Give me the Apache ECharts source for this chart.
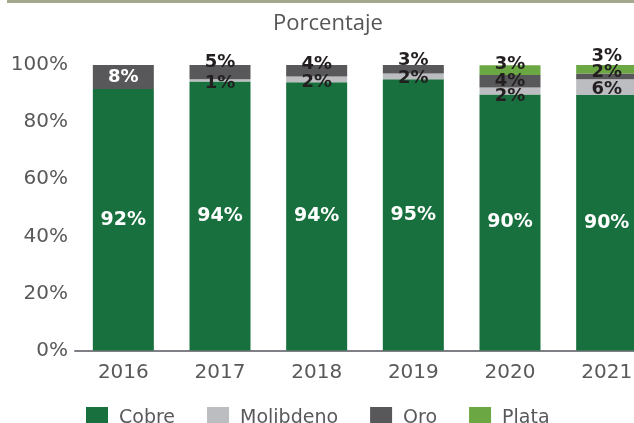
<!DOCTYPE html>
<html>

<head>
    <meta charset="UTF-8">
    <title>echarts-Porcentaje</title>
    <style>
        body { margin: 0; overflow: hidden; }
        #wrap { position: relative; width: 634px; height: 423px; overflow: hidden; }
        #topLine { position: absolute; left: 7px; top: 0; width: 627px; height: 3px; background: #a3a98f; z-index: 2; }
    </style>
</head>

<script src="https://cdn.jsdelivr.net/npm/echarts@6/dist/echarts.min.js"></script>

<body>
    <div id="wrap">
        <div id="topLine"></div>
        <!-- el último año queda recortado por el borde derecho -->
        <div id="mixBox" style="width: 656px;height:423px;"></div>
    </div>

    <script>
        // años
        var years = ['2016', '2017', '2018', '2019', '2020', '2021'];
        // participación por metal (%)
        var cobre = [91.6, 94.2, 94, 95, 89.7, 89.5];
        var molibdeno = [0, 0.8, 2, 2, 2.4, 5.5];
        var oro = [8.4, 5, 4, 3, 4.4, 2];
        var plata = [0, 0, 0, 0, 3.45, 3];
        // eje y
        var yTicks = [0, 20, 40, 60, 80, 100];

        // desplazamiento vertical de etiquetas pequeñas (solo estilo)
        var moOffset = [0, 3, 3, 2, 5, 2];
        var oroOffset = [0, -10, -6, -9, 0, -4];
        var plataOffset = [0, 0, 0, 0, -6, -13];

        var colors = ['#17703d', '#bcbdc0', '#58585a', '#6ba843'];

        function pct(p) {
            return p.value > 0 ? Math.round(p.value) + '%' : '';
        }

        function items(values, offsets, whiteIdx) {
            return values.map(function (v, i) {
                var d = { value: v, label: {} };
                if (offsets) d.label.offset = [0, offsets[i]];
                if (whiteIdx && whiteIdx.indexOf(i) > -1) d.label.color = '#fff';
                return d;
            });
        }

        var myChart = echarts.init(document.getElementById('mixBox'));

        var smallLabel = {
            show: true,
            position: 'inside',
            formatter: pct,
            color: '#231f20',
            fontWeight: 'bold',
            fontSize: 18,
            fontFamily: 'DejaVu Sans'
        };

        var option = {
            color: colors,
            title: {
                text: 'Porcentaje',
                left: 323,
                textAlign: 'center',
                top: 8,
                textStyle: {
                    color: '#555555',
                    fontWeight: 'normal',
                    fontSize: 22,
                    fontFamily: 'Open Sans'
                }
            },
            legend: {
                left: 81,
                top: 402,
                itemWidth: 22,
                itemHeight: 22,
                itemGap: 32,
                icon: 'rect',
                textStyle: {
                    color: '#58595b',
                    fontSize: 19,
                    fontFamily: 'DejaVu Sans',
                    padding: [0, 0, 0, 6]
                },
                data: ['Cobre', 'Molibdeno', 'Oro', 'Plata']
            },
            grid: {
                left: 75,
                width: 580,
                top: 65,
                height: 285.5
            },
            xAxis: {
                type: 'category',
                data: years,
                axisTick: { show: false },
                axisLine: {
                    lineStyle: { color: '#7f7f86', width: 2 }
                },
                axisLabel: {
                    margin: 12,
                    color: '#58595b',
                    fontSize: 20,
                    fontFamily: 'DejaVu Sans'
                }
            },
            yAxis: {
                type: 'value',
                min: yTicks[0],
                max: yTicks[yTicks.length - 1],
                interval: 20,
                splitLine: { show: false },
                axisLine: { show: false },
                axisTick: { show: false },
                axisLabel: {
                    margin: 7,
                    formatter: '{value}%',
                    color: '#58595b',
                    fontSize: 20,
                    fontFamily: 'DejaVu Sans'
                }
            },
            series: [{
                    name: 'Cobre',
                    type: 'bar',
                    stack: 'total',
                    barWidth: 61,
                    label: {
                        show: true,
                        position: 'inside',
                        formatter: pct,
                        color: '#fff',
                        fontWeight: 'bold',
                        fontSize: 19,
                        fontFamily: 'DejaVu Sans'
                    },
                    data: cobre
                },
                {
                    name: 'Molibdeno',
                    type: 'bar',
                    stack: 'total',
                    label: smallLabel,
                    data: items(molibdeno, moOffset)
                },
                {
                    name: 'Oro',
                    type: 'bar',
                    stack: 'total',
                    label: smallLabel,
                    data: items(oro, oroOffset, [0])
                },
                {
                    name: 'Plata',
                    type: 'bar',
                    stack: 'total',
                    label: smallLabel,
                    data: items(plata, plataOffset)
                }
            ]
        };

        myChart.setOption(option);
    </script>

</body>

</html>
